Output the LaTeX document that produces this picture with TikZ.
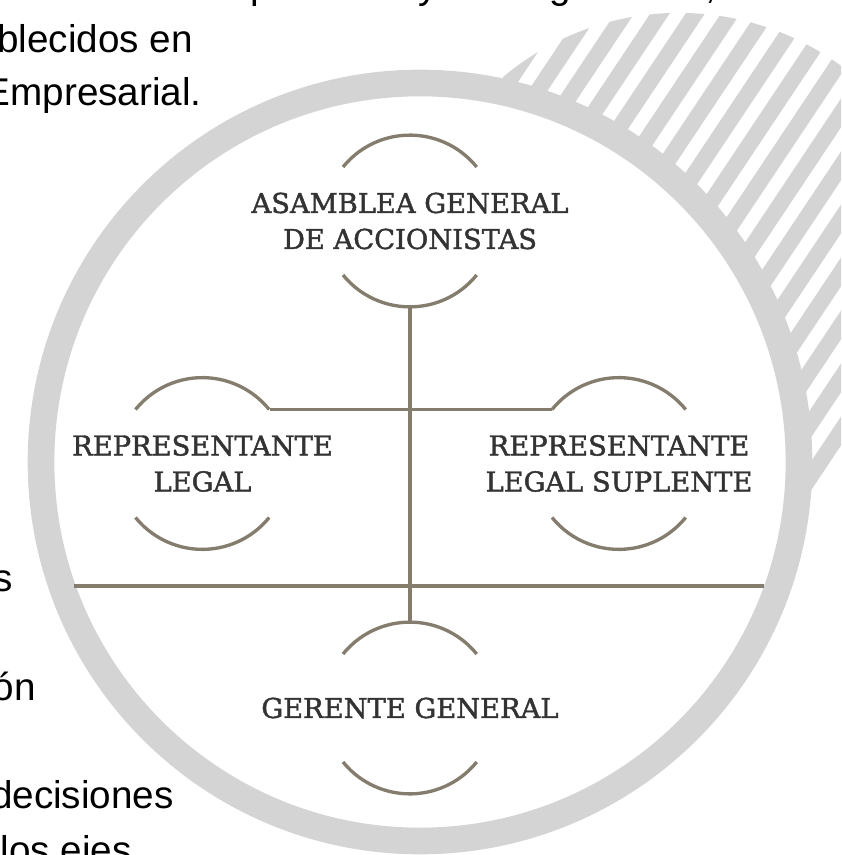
\documentclass[tikz,border=0pt]{standalone}
\usepackage{fontspec}
\setmainfont{Liberation Sans}
\newfontfamily\chartfont[FakeBold=1.6]{DejaVu Serif}
\usepackage{tikz}

\definecolor{ringgray}{HTML}{D4D4D4}
\definecolor{chartbrown}{HTML}{847C6D}
\definecolor{chartink}{HTML}{333333}

\tikzset{
  stripe/.style={draw=ringgray, line width=12pt},
  ringline/.style={draw=ringgray, line width=20pt, fill=white},
  chartline/.style={draw=chartbrown, line width=2.5pt},
  chartbox/.style={inner sep=0pt, align=center, text=chartink, font={\chartfont\fontsize{20.5pt}{27pt}\selectfont}},
  bodytext/.style={anchor=base east, inner sep=0pt, font={\fontsize{29pt}{35pt}\selectfont}}
}

% arcs above and below a chart box
\newcommand{\orgarcs}[1]{%
  \draw[chartline] ([xshift=-50.25pt,yshift=-40.5pt]#1.center) arc[start angle=219, end angle=321, radius=86];
  \draw[chartline] ([xshift=-50.25pt,yshift=40.5pt]#1.center) arc[start angle=141, end angle=39, radius=86];
}

\begin{document}
\begin{tikzpicture}[x=0.75pt,y=0.75pt,yscale=-1,xscale=1]
\useasboundingbox (0,0) rectangle (841,855);
\clip (0,0) rectangle (841,855);

% Text Node
\draw (250,-1) node [anchor=base west][inner sep=0pt][font={\fontsize{29pt}{35pt}\selectfont}] (topp) {p};
\draw (428,-1) node [anchor=base][inner sep=0pt][font={\fontsize{29pt}{35pt}\selectfont}] (topy) {y};
\draw (560,-1) node [anchor=base][inner sep=0pt][font={\fontsize{29pt}{35pt}\selectfont}] (topg) {g};
\draw (711,-1) node [anchor=base][inner sep=0pt][font={\fontsize{29pt}{35pt}\selectfont}] (topcoma) {,};
% Text Node
\draw (193,53) node [bodytext] (linea1) {blecidos en};
% Text Node
\draw (202,106) node [bodytext] (linea2) {Empresarial.};
% Text Node
\draw (13,591) node [bodytext] (linea3) {s};
% Text Node
\draw (36,700) node [bodytext] (linea4) {ón};
% Text Node
\draw (174,808) node [bodytext] (linea5) {decisiones};
% Text Node
\draw (132,863) node [bodytext] (linea6) {los ejes};

%Shape: Stripes
\begin{scope}
\clip (503,77) arc[start angle=230, end angle=306.5, radius=274] -- (900,66) -- (900,420) -- (841,467) -- (815,500) -- (420,462) -- cycle;
\foreach \k in {0,...,19}{
  \pgfmathsetmacro{\cc}{1689+106*\k}
  \draw[stripe] ({(\cc+40)/3},-20) -- ({(\cc-1240)/3},620);
}
\end{scope}

%Shape: Circle
\draw[ringline] (420,462) circle [radius=379];

% Text Node
\draw (410,221) node [chartbox] (asamblea) {ASAMBLEA GENERAL\\DE ACCIONISTAS};
% Text Node
\draw (202.5,463.5) node [chartbox] (replegal) {REPRESENTANTE\\LEGAL};
% Text Node
\draw (619,463.5) node [chartbox] (repsuplente) {REPRESENTANTE\\LEGAL SUPLENTE};
% Text Node
\draw (410,708) node [chartbox] (gerente) {GERENTE GENERAL};

%Shape: Arc
\orgarcs{asamblea}
\orgarcs{replegal}
\orgarcs{repsuplente}
\orgarcs{gerente}

%Straight Lines
\draw[chartline] ([yshift=64.5pt]asamblea.center) -- ([yshift=-64.5pt]gerente.center);
%Straight Lines
\draw[chartline] ([xshift=50.25pt,yshift=-40.5pt]replegal.center) -- ([xshift=-50.25pt,yshift=-40.5pt]repsuplente.center);
%Straight Lines
\coordinate (lineaizq) at (74,586);
\coordinate (lineader) at (764,586);
\draw[chartline] (lineaizq) -- (lineader);

\end{tikzpicture}
\end{document}
